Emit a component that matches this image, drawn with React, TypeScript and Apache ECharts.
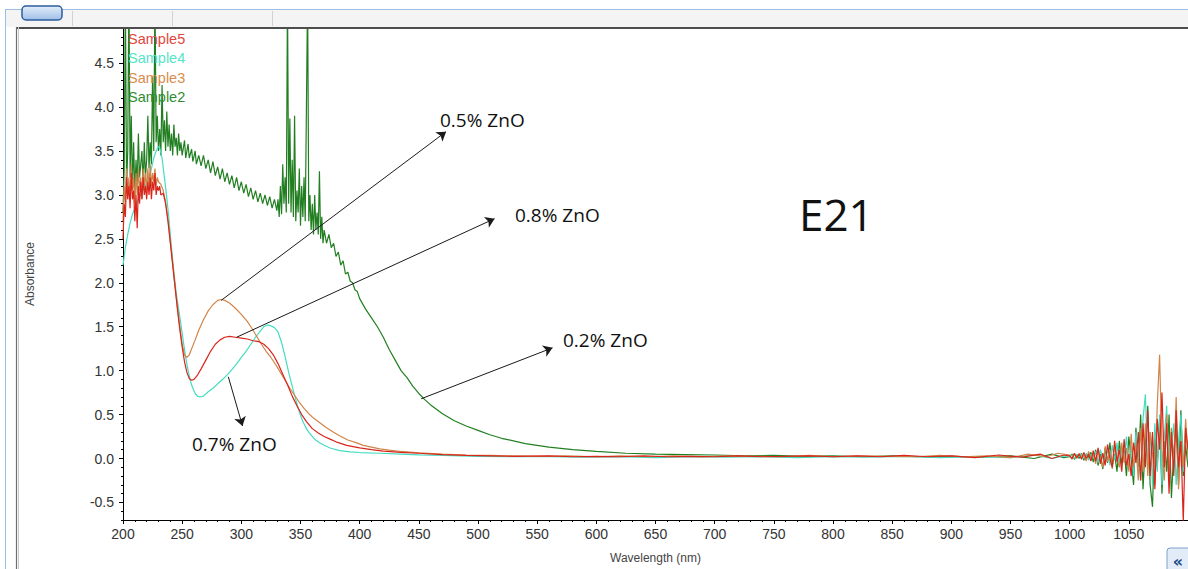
import React, { useEffect, useRef } from "react";
import * as echarts from "echarts";

// ---------------- data (wavelength nm, absorbance) ----------------
const sample5: [number, number][] = [
  [200, 2.5], [201, 2.9], [202, 2.75], [203, 3.2], [204, 2.95], [205, 3.1], [206, 2.85], [207, 3.25], [208, 2.95], [209, 3.05],
  [210, 2.7], [211, 3.0], [212, 2.62], [213, 3.1], [214, 2.9], [215, 3.15], [216, 2.95], [217, 3.2], [218, 3.0], [219, 3.1],
  [220, 2.95], [221, 3.15], [222, 3.0], [223, 3.2], [224, 2.95], [225, 3.15], [226, 3.05], [227, 3.25], [228, 3.0], [229, 3.1],
  [230, 3.05], [231, 3.1], [232, 3.0], [234, 3.02], [236, 2.9], [238, 2.7], [240, 2.45], [242, 2.2], [244, 1.95], [246, 1.7],
  [248, 1.47], [250, 1.27], [252, 1.1], [254, 0.98], [256, 0.91], [258, 0.89], [260, 0.9], [263, 0.95], [266, 1.02], [270, 1.12],
  [274, 1.22], [278, 1.3], [282, 1.35], [286, 1.38], [290, 1.39], [295, 1.38], [300, 1.37], [305, 1.36], [310, 1.34], [315, 1.33],
  [319, 1.3], [323, 1.25], [327, 1.18], [331, 1.08], [335, 0.96], [339, 0.84], [343, 0.71], [347, 0.6], [351, 0.5], [355, 0.42],
  [360, 0.34], [365, 0.29], [370, 0.25], [375, 0.22], [380, 0.19], [389, 0.15], [400, 0.12], [410, 0.1], [420, 0.085], [435, 0.07],
  [450, 0.06], [470, 0.045], [490, 0.035], [510, 0.03], [530, 0.025], [560, 0.03], [580, 0.02], [600, 0.025], [620, 0.02], [640, 0.03],
  [660, 0.02], [680, 0.025], [700, 0.02], [720, 0.03], [740, 0.02], [760, 0.025], [780, 0.03], [800, 0.02], [820, 0.03], [840, 0.02],
  [860, 0.035], [880, 0.02], [900, 0.03], [920, 0.01], [940, 0.04], [960, 0.015], [975, 0.05], [985, 0.0], [995, 0.04],
  [1000, 0.03], [1002, 0.0], [1004, 0.06], [1006, 0.01], [1008, 0.05], [1010, -0.01], [1012, 0.07], [1014, 0.0], [1016, 0.05], [1018, -0.03],
  [1020, 0.09], [1022, -0.03], [1024, 0.12], [1026, -0.06], [1028, 0.06], [1030, -0.08], [1032, 0.16], [1034, 0.0], [1036, -0.1], [1038, 0.2],
  [1040, -0.04], [1042, 0.1], [1044, -0.15], [1046, 0.22], [1048, -0.08], [1050, 0.05], [1052, -0.2], [1054, 0.18], [1056, -0.05], [1058, 0.3],
  [1060, -0.25], [1062, 0.4], [1064, -0.1], [1066, 0.55], [1068, -0.2], [1070, 0.3], [1072, -0.35], [1074, 0.45], [1076, 0.1], [1078, 0.75],
  [1080, -0.1], [1082, 0.4], [1084, -0.4], [1086, 0.3], [1088, -0.2], [1090, 0.55], [1092, -0.1], [1094, 0.2], [1096, -0.72], [1098, 0.35],
  [1100, 0.1],
];

const sample4: [number, number][] = [
  [200, 2.2], [202, 2.4], [204, 2.55], [206, 2.68], [208, 2.78], [210, 2.85], [212, 2.92], [214, 2.98], [216, 3.03], [218, 3.08],
  [220, 3.14], [222, 3.2], [224, 3.3], [226, 3.42], [228, 3.5], [230, 3.55], [231, 3.54], [233, 3.42], [235, 3.2], [237, 2.97],
  [239, 2.7], [241, 2.4], [243, 2.12], [245, 1.88], [247, 1.7], [249, 1.52], [251, 1.33], [253, 1.15], [255, 1.0], [257, 0.88],
  [259, 0.8], [261, 0.74], [263, 0.71], [265, 0.7], [268, 0.71], [272, 0.76], [276, 0.8], [280, 0.85], [285, 0.91], [290, 0.98],
  [295, 1.06], [300, 1.15], [304, 1.22], [308, 1.3], [312, 1.38], [316, 1.45], [319, 1.5], [322, 1.52], [325, 1.51], [328, 1.49],
  [331, 1.44], [334, 1.32], [337, 1.16], [340, 0.98], [343, 0.82], [346, 0.67], [349, 0.53], [352, 0.42], [355, 0.34], [358, 0.28],
  [362, 0.22], [366, 0.18], [370, 0.15], [375, 0.12], [383, 0.09], [392, 0.075], [400, 0.068], [417, 0.06], [435, 0.05], [450, 0.042],
  [470, 0.035], [500, 0.025], [530, 0.02], [560, 0.02], [590, 0.015], [620, 0.02], [650, 0.01], [680, 0.02], [710, 0.015], [740, 0.02],
  [770, 0.01], [800, 0.02], [830, 0.015], [860, 0.025], [890, 0.01], [920, 0.02], [950, 0.01], [970, 0.04], [985, 0.0], [995, 0.03],
  [1000, 0.02], [1002, 0.04], [1004, 0.0], [1006, 0.05], [1008, 0.02], [1010, 0.05], [1012, 0.0], [1014, 0.06], [1016, -0.02], [1018, 0.05],
  [1020, 0.0], [1022, 0.08], [1024, -0.05], [1026, 0.1], [1028, 0.0], [1030, -0.06], [1032, 0.12], [1034, -0.08], [1036, 0.15], [1038, -0.02],
  [1040, 0.18], [1042, -0.1], [1044, 0.12], [1046, 0.0], [1048, 0.25], [1050, -0.1], [1052, 0.15], [1054, -0.2], [1056, 0.3], [1058, 0.05],
  [1060, -0.25], [1062, 0.45], [1064, 0.73], [1066, -0.1], [1068, 0.3], [1070, -0.3], [1072, 0.4], [1074, -0.15], [1076, 0.5], [1078, -0.3],
  [1080, 0.25], [1082, 0.6], [1084, -0.2], [1086, 0.15], [1088, 0.4], [1090, -0.3], [1092, 0.2], [1094, 0.5], [1096, -0.15], [1098, 0.3],
  [1100, 0.05],
];

const sample3: [number, number][] = [
  [200, 2.7], [201, 3.1], [202, 2.9], [203, 3.3], [204, 3.0], [205, 3.2], [206, 2.95], [207, 3.35], [208, 3.05], [209, 3.2],
  [210, 2.9], [211, 3.25], [212, 3.0], [213, 3.3], [214, 3.05], [215, 3.2], [216, 2.95], [217, 3.3], [218, 3.1], [219, 3.25],
  [220, 3.05], [221, 3.3], [222, 3.1], [223, 3.35], [224, 3.1], [225, 3.25], [226, 3.15], [227, 3.3], [228, 3.1], [229, 3.2],
  [230, 3.15], [232, 3.12], [234, 3.05], [236, 2.92], [238, 2.72], [240, 2.48], [242, 2.22], [244, 1.96], [246, 1.72], [248, 1.5],
  [250, 1.3], [252, 1.18], [254, 1.15], [256, 1.18], [258, 1.25], [261, 1.35], [264, 1.46], [268, 1.58], [272, 1.68], [276, 1.75],
  [280, 1.8], [283, 1.81], [286, 1.8], [290, 1.77], [295, 1.71], [300, 1.64], [305, 1.56], [309, 1.48], [313, 1.39], [317, 1.3],
  [321, 1.22], [325, 1.15], [329, 1.07], [333, 0.98], [337, 0.89], [341, 0.8], [345, 0.72], [349, 0.64], [353, 0.57], [357, 0.51],
  [361, 0.46], [366, 0.41], [372, 0.35], [378, 0.3], [383, 0.26], [390, 0.21], [397, 0.18], [403, 0.15], [410, 0.13], [417, 0.11],
  [425, 0.095], [435, 0.08], [450, 0.065], [470, 0.05], [490, 0.04], [510, 0.035], [530, 0.03], [555, 0.025], [575, 0.03], [600, 0.02],
  [620, 0.03], [645, 0.02], [665, 0.03], [690, 0.02], [710, 0.03], [735, 0.025], [755, 0.02], [780, 0.035], [800, 0.02], [825, 0.03],
  [845, 0.025], [870, 0.02], [890, 0.035], [910, 0.02], [930, 0.03], [950, 0.01], [965, 0.05], [980, 0.02], [990, 0.06],
  [1000, 0.04], [1002, -0.01], [1004, 0.05], [1006, 0.0], [1008, 0.06], [1010, 0.01], [1012, 0.04], [1014, -0.03], [1016, 0.08], [1018, 0.0],
  [1020, 0.05], [1022, -0.06], [1024, 0.1], [1026, 0.0], [1028, -0.1], [1030, 0.14], [1032, -0.04], [1034, 0.1], [1036, -0.12], [1038, 0.15],
  [1040, 0.0], [1042, -0.1], [1044, 0.18], [1046, -0.05], [1048, 0.12], [1050, -0.15], [1052, 0.28], [1054, -0.1], [1056, 0.15], [1058, -0.25],
  [1060, 0.35], [1062, -0.15], [1064, 0.4], [1066, -0.2], [1068, 0.3], [1070, 0.05], [1072, -0.3], [1074, 0.6], [1076, 1.18], [1078, 0.1],
  [1080, -0.25], [1082, 0.5], [1084, -0.2], [1086, 0.35], [1088, -0.1], [1090, 0.7], [1092, -0.35], [1094, 0.2], [1096, -0.1], [1098, 0.45],
  [1100, 0.0],
];

const sample2: [number, number][] = [
  [200, 2.8], [201, 3.3], [202, 5.3], [203, 3.1], [204, 3.5], [205, 5.4], [206, 3.2], [207, 3.9], [208, 3.1], [209, 3.6],
  [210, 3.0], [211, 3.4], [212, 3.1], [213, 3.7], [214, 3.2], [216, 3.5], [217, 3.1], [218, 3.6], [219, 3.2], [220, 3.4],
  [221, 3.9], [222, 3.3], [223, 3.6], [224, 3.35], [225, 4.35], [226, 3.5], [227, 5.3], [228, 3.6], [229, 3.9], [230, 3.5],
  [231, 3.75], [232, 3.45], [233, 4.25], [234, 3.6], [235, 3.85], [236, 3.5], [237, 3.95], [238, 3.55], [239, 3.8], [240, 3.5],
  [241, 3.7], [242, 3.45], [243, 3.8], [244, 3.55], [245, 3.65], [246, 3.45], [247, 3.7], [248, 3.5], [249, 3.6], [250, 3.45],
  [252, 3.62], [253, 3.42], [255, 3.58], [256, 3.42], [258, 3.52], [259, 3.38], [261, 3.5], [262, 3.35], [264, 3.45], [266, 3.33],
  [268, 3.45], [270, 3.3], [272, 3.4], [274, 3.25], [276, 3.38], [278, 3.22], [280, 3.32], [282, 3.18], [284, 3.3], [286, 3.15],
  [288, 3.25], [290, 3.12], [292, 3.22], [294, 3.08], [296, 3.2], [298, 3.05], [300, 3.15], [302, 3.02], [304, 3.12], [306, 2.98],
  [308, 3.08], [310, 2.95], [312, 3.05], [314, 2.92], [316, 3.02], [318, 2.9], [320, 3.0], [322, 2.88], [324, 2.98], [326, 2.85],
  [328, 2.95], [330, 2.82], [331, 2.95], [332, 2.75], [333, 3.1], [334, 2.78], [335, 3.35], [336, 2.9], [337, 3.2], [338, 2.8],
  [339, 5.3], [340, 2.9], [341, 3.87], [342, 2.8], [343, 3.4], [344, 2.75], [345, 3.9], [346, 2.7], [347, 3.05], [348, 2.8],
  [349, 3.3], [350, 2.65], [351, 3.1], [352, 2.75], [353, 3.2], [354, 2.7], [355, 3.98], [356, 5.3], [357, 2.7], [358, 3.0],
  [359, 2.6], [360, 2.9], [361, 2.55], [362, 3.0], [363, 2.6], [364, 2.8], [365, 2.55], [366, 3.27], [367, 2.5], [368, 2.75],
  [369, 2.45], [370, 2.6], [372, 2.45], [374, 2.55], [376, 2.4], [378, 2.45], [380, 2.3], [382, 2.35], [384, 2.2], [386, 2.25],
  [388, 2.1], [390, 2.12], [392, 2.02], [394, 2.0], [396, 1.92], [398, 1.9], [400, 1.82], [405, 1.7], [410, 1.6], [415, 1.5],
  [420, 1.38], [425, 1.24], [430, 1.12], [435, 1.0], [440, 0.92], [445, 0.82], [450, 0.74], [455, 0.67], [460, 0.61], [470, 0.51],
  [480, 0.43], [490, 0.37], [500, 0.32], [510, 0.27], [520, 0.23], [540, 0.17], [560, 0.13], [580, 0.1], [600, 0.08], [625, 0.06],
  [650, 0.05], [675, 0.045], [700, 0.04], [725, 0.03], [750, 0.035], [775, 0.025], [800, 0.03], [825, 0.02], [850, 0.03], [875, 0.02],
  [900, 0.025], [925, 0.015], [950, 0.03], [970, 0.0], [985, 0.05], [995, 0.01],
  [1000, 0.02], [1002, 0.05], [1004, -0.01], [1006, 0.04], [1008, 0.0], [1010, 0.06], [1012, -0.02], [1014, 0.05], [1016, 0.01], [1018, 0.07],
  [1020, -0.04], [1022, 0.1], [1024, -0.08], [1026, 0.05], [1028, -0.12], [1030, 0.12], [1032, -0.05], [1034, 0.18], [1036, -0.08], [1038, 0.05],
  [1040, -0.15], [1042, 0.2], [1044, -0.06], [1046, 0.1], [1048, -0.2], [1050, 0.25], [1052, 0.0], [1054, -0.3], [1056, 0.35], [1058, -0.1],
  [1060, 0.5], [1062, -0.35], [1064, 0.2], [1066, 0.6], [1068, -0.3], [1070, -0.55], [1072, 0.3], [1074, -0.1], [1076, 0.45], [1078, -0.4],
  [1080, 0.2], [1082, -0.15], [1084, 0.5], [1086, -0.45], [1088, 0.1], [1090, 0.35], [1092, -0.3], [1094, 0.55], [1096, -0.2], [1098, 0.15],
  [1100, -0.1],
];

const yTickLabels = [-0.5, 0, 0.5, 1, 1.5, 2, 2.5, 3, 3.5, 4, 4.5];

const legendNames = ["Sample5", "Sample4", "Sample3", "Sample2"];
const legendColors = ["#e2463c", "#55e4c8", "#d98c4e", "#2f8d2f"];

// annotation arrows in data coordinates [nm, absorbance]
const arrowFrom: [number, number][] = [[283, 1.8], [296, 1.38], [452, 0.68], [289, 0.93]];
const arrowTo: [number, number][] = [[473, 3.72], [514, 2.73], [563, 1.26], [301, 0.37]];
const annotationTexts = ["0.5% ZnO", "0.8% ZnO", "0.2% ZnO", "0.7% ZnO"];

export default function App() {
  const ref = useRef<HTMLDivElement>(null);
  useEffect(() => {
    if (!ref.current) return;
    const chart = echarts.init(ref.current, null, { renderer: "svg" });
    const lineSeries = (name: string, data: [number, number][], color: string, extra: any = {}) => ({
      name,
      type: "line",
      data,
      showSymbol: false,
      symbol: "none",
      clip: true,
      silent: true,
      lineStyle: { color, width: 1.2 },
      itemStyle: { color },
      emphasis: { disabled: true },
      ...extra,
    });

    const annotationPos = [
      [440, 120],
      [515, 215],
      [563, 340],
      [192, 444],
    ];

    const option: any = {
      animation: false,
      backgroundColor: "#ffffff",
      grid: { left: 123, right: 0, top: 28, bottom: 48 },
      xAxis: {
        type: "value",
        min: 200,
        max: 1100,
        interval: 50,
        name: "Wavelength (nm)",
        nameLocation: "middle",
        nameGap: 32,
        nameTextStyle: { color: "#444", fontSize: 12, fontFamily: "Liberation Sans" },
        axisLine: { show: true, onZero: false, lineStyle: { color: "#000", width: 1 } },
        axisTick: { show: true, length: 4, lineStyle: { color: "#000" } },
        minorTick: { show: true, splitNumber: 5, length: 2, lineStyle: { color: "#000" } },
        splitLine: { show: false },
        axisLabel: {
          color: "#333",
          fontSize: 14,
          fontFamily: "Liberation Sans",
          margin: 7,
          showMaxLabel: false,
          formatter: (v: number) => String(v),
        },
      },
      yAxis: [
        {
          type: "value",
          min: -0.7,
          max: 4.9,
          position: "left",
          name: "Absorbance",
          nameLocation: "middle",
          nameGap: 87,
          nameTextStyle: { color: "#444", fontSize: 12, fontFamily: "Liberation Sans" },
          axisLine: { show: true, onZero: false, lineStyle: { color: "#000", width: 1 } },
          axisTick: { show: true, length: 4, customValues: yTickLabels, lineStyle: { color: "#000" } },
          axisLabel: {
            customValues: yTickLabels,
            color: "#333",
            fontSize: 14,
            fontFamily: "Liberation Sans",
            margin: 9,
            formatter: (v: number) => v.toFixed(1),
          },
          splitLine: { show: false },
        },
        {
          type: "value",
          min: -0.7,
          max: 4.9,
          interval: 0.1,
          position: "left",
          axisLine: { show: false },
          axisTick: { show: true, length: 2, lineStyle: { color: "#000" } },
          axisLabel: { show: false },
          splitLine: { show: false },
        },
      ],
      series: [
        lineSeries("Sample2", sample2, "#217f21"),
        lineSeries("Sample4", sample4, "#45dcc0"),
        lineSeries("Sample3", sample3, "#d1854a"),
        lineSeries("Sample5", sample5, "#d9261c", {
          markLine: {
            silent: true,
            symbol: ["none", "arrow"],
            symbolSize: 9,
            label: { show: false },
            emphasis: { disabled: true },
            lineStyle: { color: "#1a1a1a", width: 1, type: "solid" },
            data: arrowFrom.map((f, i) => [{ coord: f }, { coord: arrowTo[i] }]),
          },
        }),
      ],
      graphic: [
        // window chrome
        { type: "rect", shape: { x: 5, y: 10, width: 1183, height: 17 }, style: { fill: "#f4f4f4" }, z: 100, silent: true },
        { type: "line", shape: { x1: 5, y1: 9.5, x2: 1188, y2: 9.5 }, style: { stroke: "#9dbfe6", lineWidth: 1 }, z: 101, silent: true },
        { type: "line", shape: { x1: 5.5, y1: 9.5, x2: 5.5, y2: 569 }, style: { stroke: "#9dbfe6", lineWidth: 1 }, z: 101, silent: true },
        { type: "line", shape: { x1: 72.5, y1: 11, x2: 72.5, y2: 26 }, style: { stroke: "#d2d2d2", lineWidth: 1 }, z: 101, silent: true },
        { type: "line", shape: { x1: 172.5, y1: 11, x2: 172.5, y2: 26 }, style: { stroke: "#d2d2d2", lineWidth: 1 }, z: 101, silent: true },
        { type: "line", shape: { x1: 272.5, y1: 11, x2: 272.5, y2: 26 }, style: { stroke: "#d2d2d2", lineWidth: 1 }, z: 101, silent: true },
        {
          type: "rect",
          shape: { x: 22, y: 6, width: 40, height: 14, r: 4 },
          style: {
            fill: new echarts.graphic.LinearGradient(0, 0, 0, 1, [
              { offset: 0, color: "#e3eefa" },
              { offset: 1, color: "#9fbfe8" },
            ]),
            stroke: "#2d5c9a",
            lineWidth: 1.5,
          },
          z: 102,
          silent: true,
        },
        { type: "rect", shape: { x: 16, y: 27, width: 1172, height: 2 }, style: { fill: "#4d4d4d" }, z: 101, silent: true },
        { type: "line", shape: { x1: 16.5, y1: 27, x2: 16.5, y2: 569 }, style: { stroke: "#6e6e6e", lineWidth: 1.2 }, z: 101, silent: true },
        { type: "line", shape: { x1: 18.5, y1: 27, x2: 18.5, y2: 569 }, style: { stroke: "#c9c9c9", lineWidth: 1 }, z: 101, silent: true },
        {
          type: "rect",
          shape: { x: 1167, y: 548, width: 26, height: 24, r: 3 },
          style: { fill: "#e2ecf8", stroke: "#7f9fc9", lineWidth: 1 },
          z: 101,
          silent: true,
        },
        {
          type: "text",
          x: 1178,
          y: 561,
          style: { text: "«", fill: "#1d4a85", font: "bold 16px 'DejaVu Sans'", textAlign: "center", textVerticalAlign: "middle" },
          z: 102,
          silent: true,
        },
        // legend texts
        ...legendNames.map((n, i) => ({
          type: "text",
          x: 128,
          y: 39 + i * 19.3,
          style: {
            text: n,
            fill: legendColors[i],
            font: "14.5px 'Liberation Sans'",
            textAlign: "left",
            textVerticalAlign: "middle",
          },
          z: 103,
          silent: true,
        })),
        // annotation labels
        ...annotationTexts.map((t, i) => ({
          type: "text",
          x: annotationPos[i][0],
          y: annotationPos[i][1],
          style: {
            text: t,
            fill: "#111",
            font: "19px 'Open Sans'",
            textAlign: "left",
            textVerticalAlign: "middle",
          },
          z: 103,
          silent: true,
        })),
        {
          type: "text",
          x: 799,
          y: 214,
          style: { text: "E21", fill: "#111", font: "44px 'Open Sans'", textAlign: "left", textVerticalAlign: "middle" },
          z: 103,
          silent: true,
        },
      ],
    };
    chart.setOption(option);
    return () => chart.dispose();
  }, []);
  return <div ref={ref} style={{ position: "absolute", left: 0, top: 0, width: 1188, height: 569 }} />;
}
